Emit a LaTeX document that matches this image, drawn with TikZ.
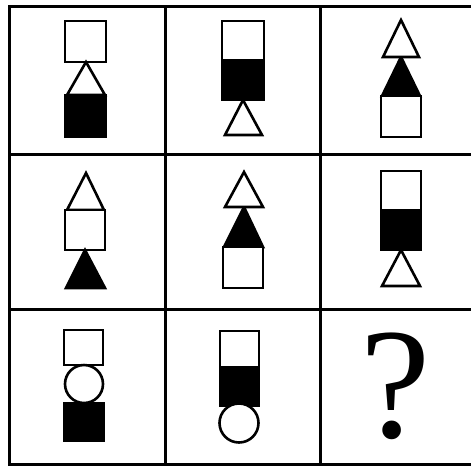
\documentclass[tikz,border=0pt]{standalone}
\usepackage{fontspec}
\newfontfamily\qfont{Liberation Serif}
\usepackage{tikz}
\usetikzlibrary{positioning}

\begin{document}
\begin{tikzpicture}[x=1pt,y=-1pt, gridline/.style={line width=3pt,black}, wht/.style={draw=black,fill=white,line width=2.6pt,line join=miter}, blk/.style={draw=black,fill=black,line width=2.6pt,line join=miter}]
  \useasboundingbox (0,0) rectangle (471,467);
  \clip (0,0) rectangle (471,467);
  % grid
  \draw[gridline] (9,6) rectangle (476,464);
  \foreach \x in {165,320}{
    \draw[gridline] (\x,6)--(\x,464);
  }
  \foreach \y in {154,309}{
    \draw[gridline] (9,\y)--(476,\y);
  }
  % row 1
  \draw[wht] (65,21) rectangle (106,62);
  \draw[wht] (86,62)--(105,95)--(67,95)--cycle;
  \draw[blk] (65,95) rectangle (106,137);
  \draw[wht] (222,21) rectangle (264,60);
  \draw[blk] (222,60) rectangle (264,100);
  \draw[wht] (243,100)--(262,135)--(225,135)--cycle;
  \draw[blk] (401,57)--(420,96)--(382,96)--cycle;
  \draw[wht] (401,20)--(419,57)--(383,57)--cycle;
  \draw[wht] (381,96) rectangle (421,137);
  % row 2
  \draw[wht] (86,173)--(104,210)--(67,210)--cycle;
  \draw[wht] (65,210) rectangle (105,250);
  \draw[blk] (85,250)--(105,288)--(66,288)--cycle;
  \draw[blk] (244,207)--(263,247)--(224,247)--cycle;
  \draw[wht] (244,172)--(263,207)--(225,207)--cycle;
  \draw[wht] (223,247) rectangle (263,288);
  \draw[wht] (381,171) rectangle (421,210);
  \draw[blk] (381,210) rectangle (421,250);
  \draw[wht] (401,250)--(420,286)--(382,286)--cycle;
  % row 3
  \draw[wht] (64,330) rectangle (103,365);
  \draw[wht] (84,384) circle (19);
  \draw[blk] (64,403) rectangle (104,441);
  \draw[wht] (220,331) rectangle (259,367);
  \draw[blk] (220,367) rectangle (259,406);
  \draw[wht] (239,423) circle (19.5);
  \node[inner sep=0pt,font=\qfont\fontsize{158}{158}\selectfont] (qmark) at (396,386) {?};
\end{tikzpicture}
\end{document}
